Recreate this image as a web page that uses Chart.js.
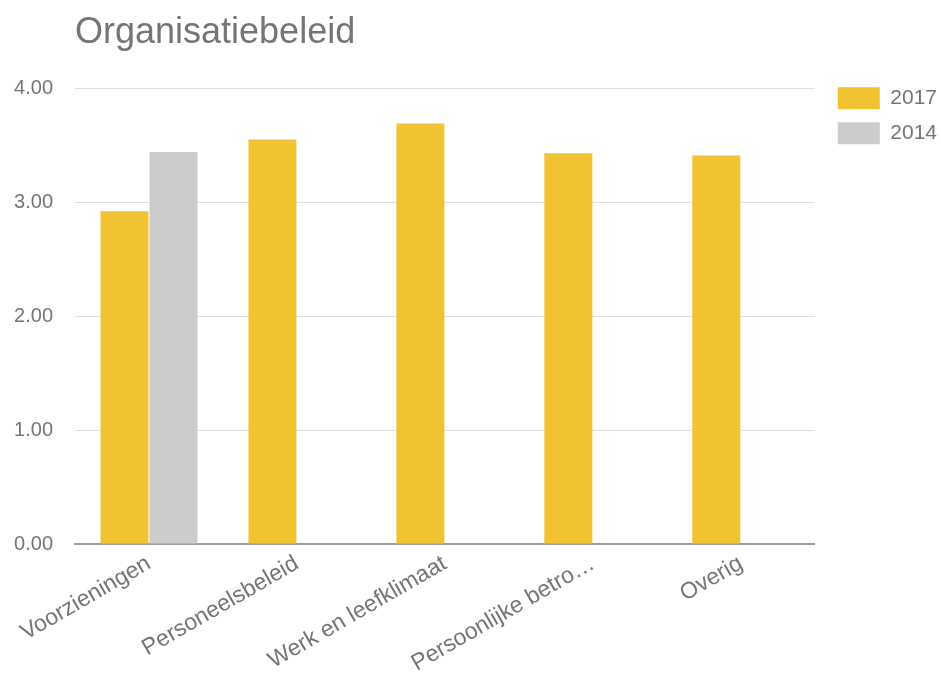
<!DOCTYPE html>
<html lang="nl">
<head>
    <meta charset="UTF-8">
    <title>Organisatiebeleid</title>
    <script src="https://cdn.jsdelivr.net/npm/chart.js"></script>
    <style>
        body {
            margin: 0;
            background: #fff;
            font-family: "Liberation Sans", Arial, sans-serif;
        }
        #wrap {
            width: 941px;
            height: 677px;
        }
    </style>
</head>
<body>
    <div id="wrap"><canvas id="orgChart"></canvas></div>

    <script>
        const categories = ['Voorzieningen', 'Personeelsbeleid', 'Werk en leefklimaat', 'Persoonlijke betro\u2026', 'Overig'];
        const values2017 = [2.92, 3.55, 3.69, 3.43, 3.41];
        const values2014 = [3.44, null, null, null, null];
        const yTickLabels = ['0.00', '1.00', '2.00', '3.00', '4.00'];

        // nudge the legend so it lines up with the top of the plot
        const legendShift = {
            id: 'legendShift',
            afterLayout(chart) {
                chart.legend.left += 10;
                chart.legend.top -= 14;
            }
        };

        Chart.defaults.font.family = '"Liberation Sans", Arial, sans-serif';
        Chart.defaults.color = '#757575';

        new Chart(document.getElementById('orgChart'), {
            type: 'bar',
            data: {
                labels: categories,
                datasets: [
                    {
                        label: '2017',
                        data: values2017,
                        backgroundColor: '#f1c232',
                        borderWidth: 0
                    },
                    {
                        label: '2014',
                        data: values2014,
                        backgroundColor: '#cccccc',
                        borderWidth: 0
                    }
                ]
            },
            options: {
                responsive: true,
                maintainAspectRatio: false,
                animation: false,
                categoryPercentage: 0.662,
                barPercentage: 0.98,
                layout: {
                    padding: { left: 13, right: 4, top: 0, bottom: 0 }
                },
                plugins: {
                    title: {
                        display: true,
                        text: 'Organisatiebeleid',
                        align: 'start',
                        fullSize: false,
                        color: '#757575',
                        font: { size: 36, weight: 'normal' },
                        padding: { top: 11, bottom: 34 }
                    },
                    legend: {
                        position: 'right',
                        align: 'start',
                        fullSize: false,
                        labels: {
                            boxWidth: 42,
                            boxHeight: 22,
                            padding: 13,
                            color: '#757575',
                            font: { size: 21 }
                        }
                    },
                    tooltip: { enabled: false }
                },
                scales: {
                    x: {
                        grid: { display: false, drawTicks: false },
                        border: { color: '#9e9e9e', width: 2 },
                        ticks: {
                            minRotation: 30,
                            maxRotation: 30,
                            padding: 6,
                            color: '#757575',
                            font: { size: 23 }
                        },
                        // fixed axis height; rotated labels may hang past the left edge
                        afterFit(scale) {
                            scale.height = 133;
                            scale.paddingLeft = 0;
                            scale.paddingRight = 0;
                        }
                    },
                    y: {
                        min: 0,
                        max: 4,
                        border: { display: false },
                        grid: { color: '#e0e0e0', drawTicks: false },
                        ticks: {
                            stepSize: 1,
                            padding: 22,
                            color: '#757575',
                            font: { size: 20 },
                            callback: (value, i) => yTickLabels[i]
                        },
                        afterFit(scale) {
                            scale.width = 62;
                        }
                    }
                }
            },
            plugins: [legendShift]
        });
    </script>
</body>
</html>
